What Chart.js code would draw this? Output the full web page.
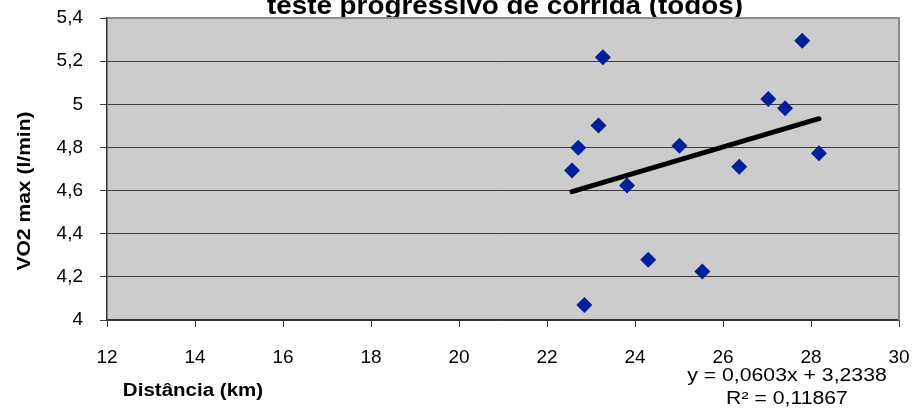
<!DOCTYPE html>
<html lang="pt">
<head>
<meta charset="utf-8">
<title>VO2 max x distância</title>
<script src="https://cdn.jsdelivr.net/npm/chart.js@4/dist/chart.umd.min.js"></script>
<style>
    html, body { margin: 0; padding: 0; background: #ffffff; }
    #wrap { width: 915px; height: 411px; }
</style>
</head>
<body>
<div id="wrap"><canvas id="graficoVO2"></canvas></div>
<script>
// Distância percorrida (km) e VO2 max (l/min) de cada corredor
const distancia = [22.57, 22.71, 23.17, 23.27, 23.82, 24.30, 22.85, 25.01, 25.53, 26.37, 27.03, 27.41, 27.80, 28.18];
const vo2 = [4.693, 4.798, 4.902, 5.218, 4.624, 4.279, 4.069, 4.808, 4.225, 4.710, 5.024, 4.982, 5.294, 4.773];

// Linha de tendência linear (Excel)
const tendencia = [0.0603, 3.2338];   // [inclinação, intercepto]
const r2 = 0.11867;

const eixoX = [12, 30, 2];   // min, max, passo
const eixoY = [4, 5.4, 0.2];

const titulo = 'teste progressivo de corrida (todos)';
const tituloX = 'Distância (km)';
const tituloY = 'VO2 max (l/min)';

function virgula(n, casas) {
    return n.toFixed(casas).replace('.', ',');
}

const pontos = distancia.map((d, i) => ({ x: d, y: vo2[i] }));
const xMin = Math.min(...distancia);
const xMax = Math.max(...distancia);
const linhaTendencia = [xMin, xMax].map(x => ({ x: x, y: tendencia[0] * x + tendencia[1] }));

const textoEquacao = 'y = ' + virgula(tendencia[0], 4) + 'x + ' + virgula(tendencia[1], 4);
const textoR2 = 'R² = ' + virgula(r2, 5);

// escreve um texto com leve esticamento horizontal
function escrever(ctx, str, x, y, fonte, sx, angulo) {
    ctx.save();
    ctx.translate(x, y);
    if (angulo) ctx.rotate(angulo);
    ctx.scale(sx, 1);
    ctx.font = fonte;
    ctx.fillStyle = '#000000';
    ctx.textAlign = 'center';
    ctx.textBaseline = 'alphabetic';
    ctx.fillText(str, 0, 0);
    ctx.restore();
}

// Fundo cinza da área de plotagem, títulos e equação
const molduraPlot = {
    id: 'molduraPlot',
    beforeDraw(chart) {
        const { ctx, chartArea: a } = chart;
        // título fica atrás da área de plotagem
        escrever(ctx, titulo, 505, 14, 'bold 26px "Liberation Sans", Arial, sans-serif', 1.07);
        ctx.save();
        ctx.fillStyle = '#cccccc';
        ctx.fillRect(a.left, a.top, a.right - a.left, a.bottom - a.top);
        ctx.restore();
    },
    beforeDatasetsDraw(chart) {
        const { ctx, chartArea: a } = chart;
        ctx.save();
        ctx.strokeStyle = '#8c8c8c';
        ctx.lineWidth = 2;
        ctx.beginPath();
        ctx.moveTo(a.left, a.top);
        ctx.lineTo(a.right, a.top);
        ctx.lineTo(a.right, a.bottom);
        ctx.stroke();
        ctx.restore();
    },
    afterDraw(chart) {
        const ctx = chart.ctx;
        escrever(ctx, tituloY, 30, 191, 'bold 18px "Liberation Sans", Arial, sans-serif', 1.17, -Math.PI / 2);
        escrever(ctx, tituloX, 193, 396, 'bold 18px "Liberation Sans", Arial, sans-serif', 1.14);
        escrever(ctx, textoEquacao, 787, 381, '18px "Liberation Sans", Arial, sans-serif', 1.18);
        escrever(ctx, textoR2, 787, 404, '18px "Liberation Sans", Arial, sans-serif', 1.18);
    }
};

const fonteTicks = { family: '"Liberation Sans", Arial, sans-serif', size: 19 };

new Chart(document.getElementById('graficoVO2'), {
    type: 'scatter',
    data: {
        datasets: [
            {
                label: 'VO2 max',
                data: pontos,
                pointStyle: 'rectRot',
                pointRadius: 8,
                pointHoverRadius: 8,
                backgroundColor: '#00209a',
                borderColor: '#00209a',
                borderWidth: 0,
                order: 2
            },
            {
                label: 'Linear',
                type: 'line',
                data: linhaTendencia,
                borderColor: '#000000',
                borderWidth: 5,
                borderCapStyle: 'round',
                pointRadius: 0,
                fill: false,
                order: 1
            }
        ]
    },
    options: {
        responsive: true,
        maintainAspectRatio: false,
        animation: false,
        events: [],
        layout: { padding: { top: 18, right: 16, bottom: 0, left: 0 } },
        plugins: {
            legend: { display: false },
            tooltip: { enabled: false },
            title: { display: false }
        },
        scales: {
            x: {
                type: 'linear',
                min: eixoX[0],
                max: eixoX[1],
                // tamanho fixo do eixo, sem folga extra para os rótulos
                afterFit(scale) {
                    scale.height = 91;
                    scale.paddingLeft = 0;
                    scale.paddingRight = 0;
                },
                ticks: {
                    stepSize: eixoX[2],
                    color: '#000000',
                    font: fonteTicks,
                    padding: 19,
                    maxRotation: 0,
                    callback: v => String(v)
                },
                grid: {
                    drawOnChartArea: false,
                    drawTicks: true,
                    tickLength: 7,
                    color: '#333333',
                    lineWidth: 1
                },
                border: { display: true, color: '#333333', width: 1.5 }
            },
            y: {
                min: eixoY[0],
                max: eixoY[1],
                afterFit(scale) {
                    scale.width = 107;
                    scale.paddingTop = 0;
                    scale.paddingBottom = 0;
                },
                ticks: {
                    stepSize: eixoY[2],
                    color: '#000000',
                    font: fonteTicks,
                    padding: 17,
                    callback: v => String(Number(v.toFixed(1))).replace('.', ',')
                },
                grid: {
                    drawTicks: true,
                    tickLength: 7,
                    color: '#3c3c3c',
                    lineWidth: 1
                },
                border: { display: true, color: '#333333', width: 1.5 }
            }
        }
    },
    plugins: [molduraPlot]
});
</script>
</body>
</html>
